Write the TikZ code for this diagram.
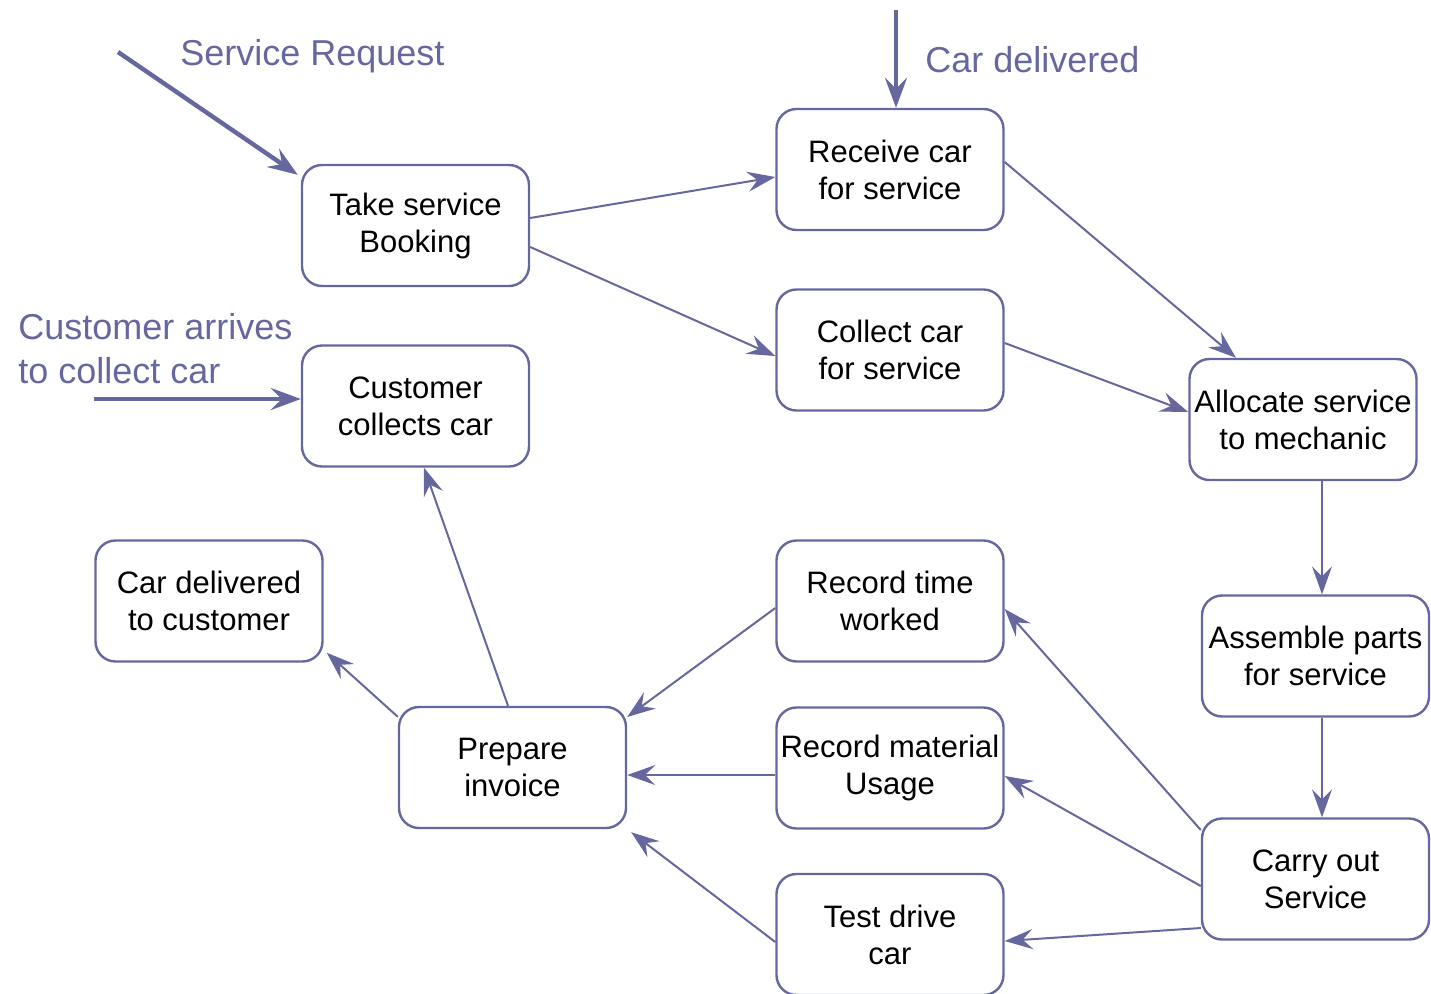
\documentclass[tikz,border=0pt]{standalone}
\usepackage{fontspec}
\setmainfont{Liberation Sans}
\usepackage{xcolor}
\usepackage{tikz}
\usetikzlibrary{arrows.meta,calc,positioning}

\definecolor{flowblue}{RGB}{102,103,158}

\begin{document}
\begin{tikzpicture}[x=0.5pt,y=-0.5pt,
    task/.style={draw=flowblue, line width=1.2pt, rounded corners=10pt,
      minimum width=113.5pt, minimum height=60.5pt, inner sep=1pt,
      align=center, font=\fontsize{15.5}{18.5}\selectfont},
    link/.style={draw=flowblue, line width=1pt,
      -{Stealth[length=14pt,width=10pt,inset=5pt]}},
    trigger/.style={draw=flowblue, line width=2.2pt,
      -{Stealth[length=15pt,width=11pt,inset=5.5pt]}},
    note/.style={text=flowblue, align=left, anchor=west,
      font=\fontsize{18}{22}\selectfont, inner sep=0pt}]
  \useasboundingbox (0,0) rectangle (1431,993);

  % tasks
  \node[task] (take)     at (415.5,225.5) {Take service\\Booking};
  \node[task] (receive)  at (890,169.5)   {Receive car\\for service};
  \node[task] (collect)  at (890,350)     {Collect car\\for service};
  \node[task] (custcoll) at (415.5,406)   {Customer\\collects car};
  \node[task] (allocate) at (1303,419.5)  {Allocate service\\to mechanic};
  \node[task] (cardel)   at (209,601)     {Car delivered\\to customer};
  \node[task] (rectime)  at (890,601)     {Record time\\worked};
  \node[task] (assemble) at (1315.5,656)  {Assemble parts\\for service};
  \node[task] (invoice)  at (512.5,767.5) {Prepare\\invoice};
  \node[task] (recmat)   at (890,768)     {Record material\\Usage};
  \node[task] (carry)    at (1315.5,879)  {Carry out\\Service};
  \node[task] (testdrv)  at (890,934.5)   {Test drive\\car};

  % events coming in
  \node[note] (reqlbl) at (180,56)  {Service Request};
  \node[note] (dellbl) at (925,60)  {Car delivered};
  \node[note] (arrlbl) at (18,349)  {Customer arrives\\to collect car};
  \coordinate (reqin) at (118,52);
  \coordinate (delin) at (896,10);
  \coordinate (arrin) at (94,399);

  \draw[trigger] (reqin) -- ([xshift=-1.5pt,yshift=-5.5pt]take.north west);
  \draw[trigger] (delin) -- ([xshift=3pt]receive.north);
  \draw[trigger] (arrin) -- ([yshift=3.5pt]custcoll.west);

  % flow between tasks
  \draw[link] ([yshift=3.75pt]take.east) -- ([yshift=-3.75pt]receive.west);
  \draw[link] ([yshift=-10.75pt]take.east) -- ([yshift=-3pt]collect.west);
  \draw[link] ([yshift=3.75pt]receive.east) -- ([xshift=-33.5pt]allocate.north);
  \draw[link] ([yshift=3.5pt]collect.east) -- ([yshift=3.75pt]allocate.west);
  \draw[link] ([xshift=9.5pt]allocate.south) -- ([xshift=3.25pt]assemble.north);
  \draw[link] ([xshift=3.25pt]assemble.south) -- ([xshift=3.25pt]carry.north);
  \draw[link] ([yshift=24.5pt]carry.west) -- ([yshift=-4pt]rectime.east);
  \draw[link] ([yshift=-3.5pt]carry.west) -- ([yshift=-4pt]recmat.east);
  \draw[link] ([yshift=-24.5pt]carry.west) -- ([yshift=-3.25pt]testdrv.east);
  \draw[link] ([yshift=-3.5pt]rectime.west) -- ([yshift=25.25pt]invoice.east);
  \draw[link] ([yshift=-3.5pt]recmat.west) -- ([yshift=-3.75pt]invoice.east);
  \draw[link] ([yshift=-3.75pt]testdrv.west) -- ([xshift=2pt,yshift=-1.5pt]invoice.south east);
  \draw[link] ([xshift=-2.25pt]invoice.north) -- ([xshift=4.25pt]custcoll.south);
  \draw[link] ([yshift=-5.5pt]invoice.north west) -- ([xshift=1.5pt,yshift=5pt]cardel.south east);
\end{tikzpicture}
\end{document}
